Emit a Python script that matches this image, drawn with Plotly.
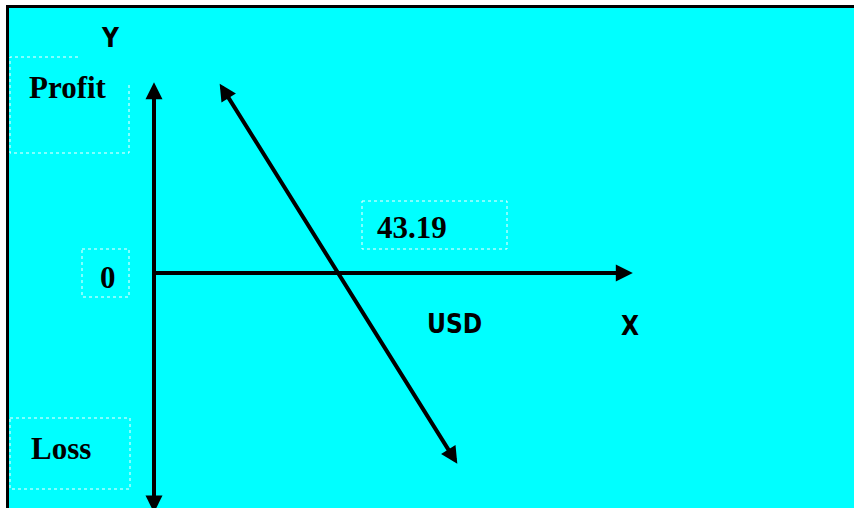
"""Break-even sketch: profit / loss against price in USD."""

import plotly.graph_objects as go

# values
break_even = 43.19
axis_names = ["X", "Y"]
unit_name = "USD"
zero_name = "0"
region_names = ["Profit", "Loss"]

# axis arrows: tail -> tip, in chart units (origin where the axes cross)
x_axis_x = [0, 112.4]
x_axis_y = [0, 0]
y_axis_x = [0, 0]
y_axis_y = [-56.6, 44.8]

# downward sloping line, arrow at both ends, crossing the x axis at break_even
line_x = [15.2, 71.2]
line_y = [44.8, -44.8]

# page geometry
W, H = 854, 508
LEFT, TOP = 9, 8
OX, OY = 154, 273          # pixel where the axes cross
K = 4.26                   # pixels per chart unit

CYAN = "#00FFFF"
SANS = "DejaVu Sans Condensed, Liberation Sans Narrow, Arial Narrow, sans-serif"
SERIF = "Liberation Serif, Times New Roman, serif"


def px(xp, yp):
    """pixel position on the page -> chart units (for labels and boxes only)"""
    return (xp - OX) / K, (OY - yp) / K


def arrow(xs, ys, both=False):
    return dict(
        x=xs[1], y=ys[1], ax=xs[0], ay=ys[0],
        xref="x", yref="y", axref="x", ayref="y",
        text="", showarrow=True,
        arrowhead=2, arrowsize=0.85, arrowwidth=4, arrowcolor="black",
        startarrowhead=2, startarrowsize=0.85,
        arrowside="end+start" if both else "end",
        standoff=0, startstandoff=0,
    )


def label(text, xp, yp, family, size):
    x, y = px(xp, yp)
    return dict(
        x=x, y=y, xref="x", yref="y", text=f"<b>{text}</b>",
        showarrow=False, xanchor="center", yanchor="middle",
        font=dict(family=family, size=size, color="black"),
    )


def dotted_box(x0, y0, x1, y1):
    a, b = px(x0, y0)
    c, d = px(x1, y1)
    return dict(type="rect", xref="x", yref="y", x0=a, y0=b, x1=c, y1=d,
                line=dict(color="white", width=1, dash="dot"), layer="below")


fig = go.Figure()

annotations = [
    arrow(x_axis_x, x_axis_y),
    arrow(y_axis_x, y_axis_y, both=True),
    arrow(line_x, line_y, both=True),
    label(axis_names[1], 110, 38, SANS, 26),
    label(axis_names[0], 630, 326, SANS, 26),
    label(unit_name, 454, 324, SANS, 26),
    label(region_names[0], 68, 87, SERIF, 31),
    label(region_names[1], 61, 448, SERIF, 31),
    label(zero_name, 108, 277, SERIF, 31),
    label(f"{break_even:.2f}", 412, 227, SERIF, 31),
]

# profit box is partly hidden at its top right corner
pts = [px(78, 57), px(10, 57), px(10, 153), px(129, 153), px(129, 83)]
profit_path = "M " + " L ".join(f"{x},{y}" for x, y in pts)

shapes = [
    dict(type="path", xref="x", yref="y", path=profit_path,
         line=dict(color="white", width=1, dash="dot"), layer="below"),
    dotted_box(10, 418, 130, 489),
    dotted_box(82, 249, 129, 297),
    dotted_box(362, 201, 507, 249),
    # black frame, only top and left are on the page
    dict(type="line", xref="paper", yref="paper", x0=-1.5 / (W - LEFT), x1=1,
         y0=1 + 1.5 / (H - TOP), y1=1 + 1.5 / (H - TOP),
         line=dict(color="black", width=3)),
    dict(type="line", xref="paper", yref="paper", x0=-1.5 / (W - LEFT), x1=-1.5 / (W - LEFT),
         y0=0, y1=1 + 3 / (H - TOP),
         line=dict(color="black", width=3)),
]

fig.update_layout(
    width=W, height=H,
    margin=dict(l=LEFT, r=0, t=TOP, b=0),
    paper_bgcolor="white",
    plot_bgcolor=CYAN,
    showlegend=False,
    xaxis=dict(range=[(LEFT - OX) / K, (W - OX) / K], visible=False, fixedrange=True),
    yaxis=dict(range=[(OY - H) / K, (OY - TOP) / K], visible=False, fixedrange=True),
    annotations=annotations,
    shapes=shapes,
)

# the page's default body margin would push everything 8px off
fig.write_html("out.html", config={"displayModeBar": False},
               post_script="document.body.style.margin = '0px'; "
                           "document.body.style.overflow = 'hidden';")
